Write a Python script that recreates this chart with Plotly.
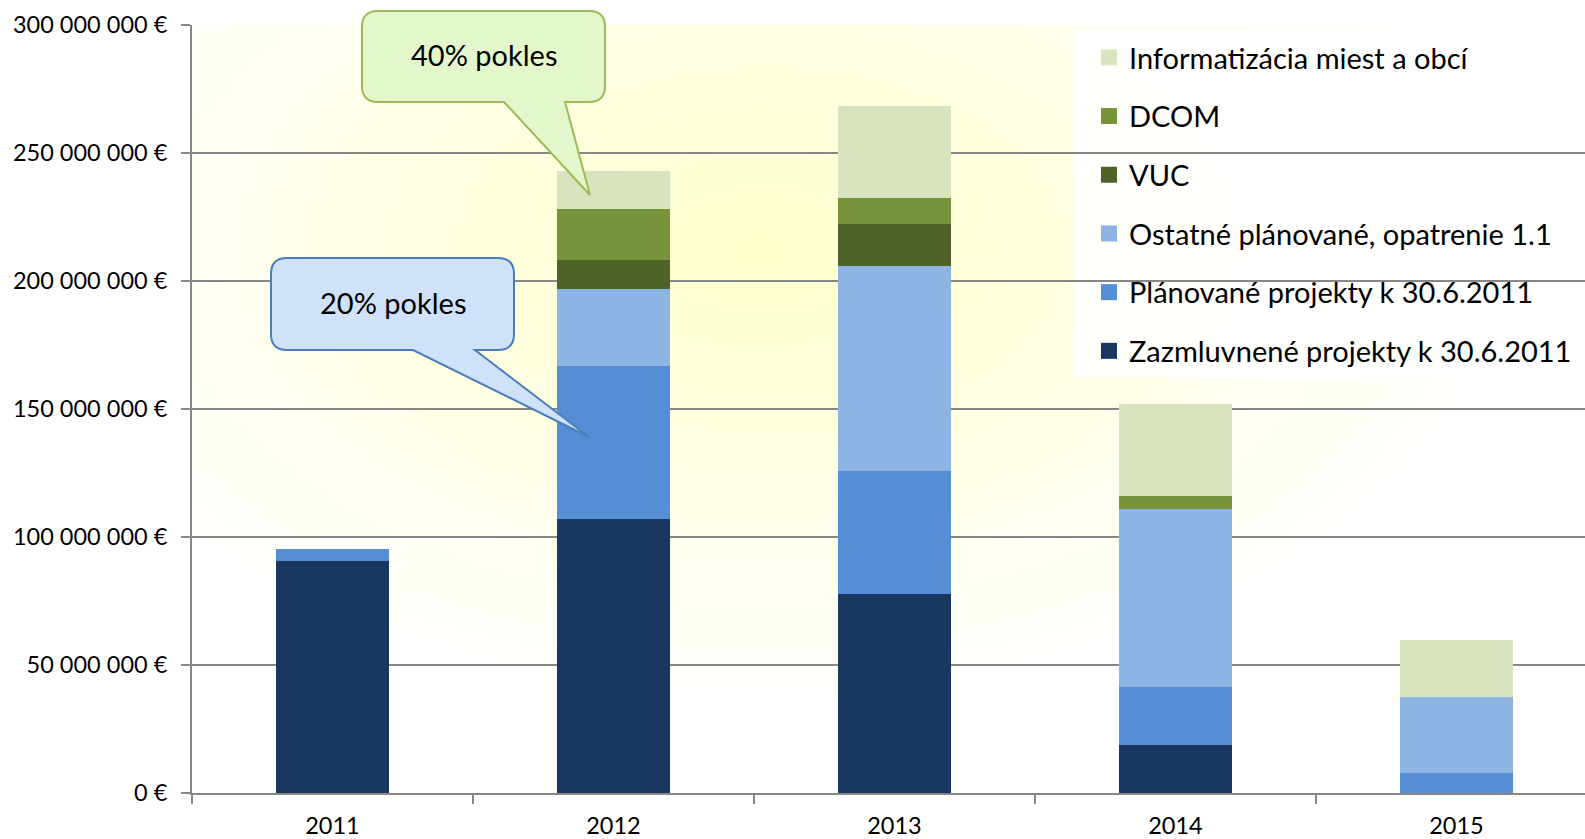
import base64
import struct
import zlib

import numpy as np
import plotly.graph_objects as go

# ---------------- data ----------------
years = ["2011", "2012", "2013", "2014", "2015"]
zazmluvnene = [90_500_000, 107_200_000, 77_900_000, 18_900_000, 0]
planovane = [5_000_000, 59_600_000, 47_900_000, 22_500_000, 8_000_000]
ostatne = [0, 30_100_000, 79_900_000, 69_700_000, 29_500_000]
vuc = [0, 11_200_000, 16_600_000, 0, 0]
dcom = [0, 19_900_000, 10_000_000, 4_800_000, 0]
informatizacia = [0, 14_900_000, 36_100_000, 36_200_000, 22_100_000]

series_names = [
    "Zazmluvnené projekty k 30.6.2011",
    "Plánované projekty k 30.6.2011",
    "Ostatné plánované, opatrenie 1.1",
    "VUC",
    "DCOM",
    "Informatizácia miest a obcí",
]
series_values = [zazmluvnene, planovane, ostatne, vuc, dcom, informatizacia]
series_colors = ["#1a375f", "#558ed5", "#8eb4e3", "#4f6228", "#77933c", "#d7e4bd"]

y_tick_vals = [0, 50_000_000, 100_000_000, 150_000_000, 200_000_000, 250_000_000, 300_000_000]
y_tick_text = ["0 €", "50 000 000 €", "100 000 000 €", "150 000 000 €",
               "200 000 000 €", "250 000 000 €", "300 000 000 €"]

callout_texts = ["40% pokles", "20% pokles"]

# ---------------- geometry ----------------
W, H = 1585, 839
ML, MR, MT, MB = 192, 0, 25, 46
PW, PH = W - ML - MR, H - MT - MB
CAT_PX = 281.0
FONT = "Lato, 'Noto Sans', sans-serif"


def px_to_paper(px, py):
    return (px - ML) / PW, (H - MB - py) / PH


def make_png(arr):
    h, w, _ = arr.shape
    raw = b"".join(b"\x00" + arr[i].tobytes() for i in range(h))

    def chunk(t, d):
        c = struct.pack(">I", len(d)) + t + d
        return c + struct.pack(">I", zlib.crc32(t + d) & 0xFFFFFFFF)

    png = (b"\x89PNG\r\n\x1a\n"
           + chunk(b"IHDR", struct.pack(">IIBBBBB", w, h, 8, 2, 0, 0, 0))
           + chunk(b"IDAT", zlib.compress(raw, 9))
           + chunk(b"IEND", b""))
    return "data:image/png;base64," + base64.b64encode(png).decode()


# radial pale-yellow background of the plot area
gw, gh = 348, 192
xs = ML + (np.arange(gw) + 0.5) / gw * PW
ys = MT + (np.arange(gh) + 0.5) / gh * PH
XX, YY = np.meshgrid(xs, ys)
cx, cy, rx, ry = 760.0, 250.0, 760.0, 450.0
t = np.sqrt(((XX - cx) / rx) ** 2 + ((YY - cy) / ry) ** 2)
k = np.clip(1 - t, 0, 1) ** 1.0
img = np.zeros((gh, gw, 3), dtype=np.uint8)
img[..., 0] = 255
img[..., 1] = 255
img[..., 2] = np.clip(255 - 50 * k, 0, 255).astype(np.uint8)
bg_uri = make_png(img)

fig = go.Figure()

for name, vals, col in zip(series_names, series_values, series_colors):
    fig.add_trace(go.Bar(
        x=years, y=vals, name=name, marker=dict(color=col, line=dict(width=0)),
        showlegend=False, legendgroup=name,
    ))
# legend entries (top of stack listed first)
for name, col in reversed(list(zip(series_names, series_colors))):
    fig.add_trace(go.Scatter(
        x=[None], y=[None], mode="markers", name=name, legendgroup=name,
        marker=dict(symbol="square", size=16, color=col, line=dict(width=0)),
        showlegend=True,
    ))


def callout_path(x0, y0, x1, y1, r, xa, xb, tx, ty):
    pts = [
        ("M", [(x0 + r, y0)]), ("L", [(x1 - r, y0)]), ("Q", [(x1, y0), (x1, y0 + r)]),
        ("L", [(x1, y1 - r)]), ("Q", [(x1, y1), (x1 - r, y1)]),
        ("L", [(xb, y1)]), ("L", [(tx, ty)]), ("L", [(xa, y1)]),
        ("L", [(x0 + r, y1)]), ("Q", [(x0, y1), (x0, y1 - r)]),
        ("L", [(x0, y0 + r)]), ("Q", [(x0, y0), (x0 + r, y0)]),
    ]
    s = ""
    for cmd, plist in pts:
        s += cmd + " ".join("%.5f,%.5f" % px_to_paper(a, b) for a, b in plist) + " "
    return s + "Z"


callouts = [
    dict(box=(362, 11, 605, 102), xa=504, xb=565, tip=(590, 195),
         fill="#e4f7cc", line="#9bbb59", text=callout_texts[0]),
    dict(box=(271, 258, 514, 350), xa=413, xb=475, tip=(589, 437),
         fill="#d0e1fa", line="#4a7ebb", text=callout_texts[1]),
]

shapes = []
annotations = []
# legend background
lx0, ly1 = px_to_paper(1073, 30)
lx1, ly0 = px_to_paper(1585, 378)
shapes.append(dict(type="rect", xref="paper", yref="paper", x0=lx0, x1=lx1, y0=ly0, y1=ly1,
                   fillcolor="rgba(255,255,255,0.86)", line=dict(width=0), layer="between"))
for c in callouts:
    x0, y0, x1, y1 = c["box"]
    shapes.append(dict(type="path", xref="paper", yref="paper",
                       path=callout_path(x0, y0, x1, y1, 16, c["xa"], c["xb"], *c["tip"]),
                       fillcolor=c["fill"], line=dict(color=c["line"], width=2), layer="above"))
    tx, ty = px_to_paper((x0 + x1) / 2, (y0 + y1) / 2 - 2)
    annotations.append(dict(xref="paper", yref="paper", x=tx, y=ty, text=c["text"],
                            showarrow=False, font=dict(family=FONT, size=29, color="#000000"),
                            xanchor="center", yanchor="middle"))

legx, legy = px_to_paper(1089, 32)

fig.update_layout(
    width=W, height=H,
    margin=dict(l=ML, r=MR, t=MT, b=MB),
    paper_bgcolor="#ffffff",
    plot_bgcolor="rgba(0,0,0,0)",
    barmode="stack",
    bargap=0.6,
    font=dict(family=FONT, color="#000000"),
    showlegend=True,
    legend=dict(x=legx, y=legy, xanchor="left", yanchor="top",
                bgcolor="rgba(0,0,0,0)", borderwidth=0,
                font=dict(family=FONT, size=29, color="#000000"),
                traceorder="grouped", tracegroupgap=18, itemsizing="trace"),
    xaxis=dict(type="category", range=[-0.5, -0.5 + PW / CAT_PX], showgrid=False,
               showline=True, linecolor="#878787", linewidth=2,
               ticks="outside", tickson="boundaries", ticklen=9, tickwidth=2,
               tickcolor="#878787", tickfont=dict(family=FONT, size=23.5, color="#000000"),
               ticklabelstandoff=11, automargin=False, fixedrange=True),
    yaxis=dict(range=[0, 300_000_000], tickvals=y_tick_vals, ticktext=y_tick_text,
               showgrid=True, gridcolor="#878787", gridwidth=2, zeroline=False,
               showline=True, linecolor="#878787", linewidth=2,
               ticks="outside", ticklen=9, tickwidth=2, tickcolor="#878787",
               tickfont=dict(family=FONT, size=23.5, color="#000000"),
               ticklabelstandoff=9, automargin=False, fixedrange=True),
    images=[dict(source=bg_uri, xref="paper", yref="paper", x=0, y=1, sizex=1, sizey=1,
                 xanchor="left", yanchor="top", sizing="stretch", layer="below")],
    shapes=shapes,
    annotations=annotations,
)

fig.write_html("out.html", config={"displayModeBar": False},
               post_script="document.body.style.margin='0';document.body.style.overflow='hidden';")
